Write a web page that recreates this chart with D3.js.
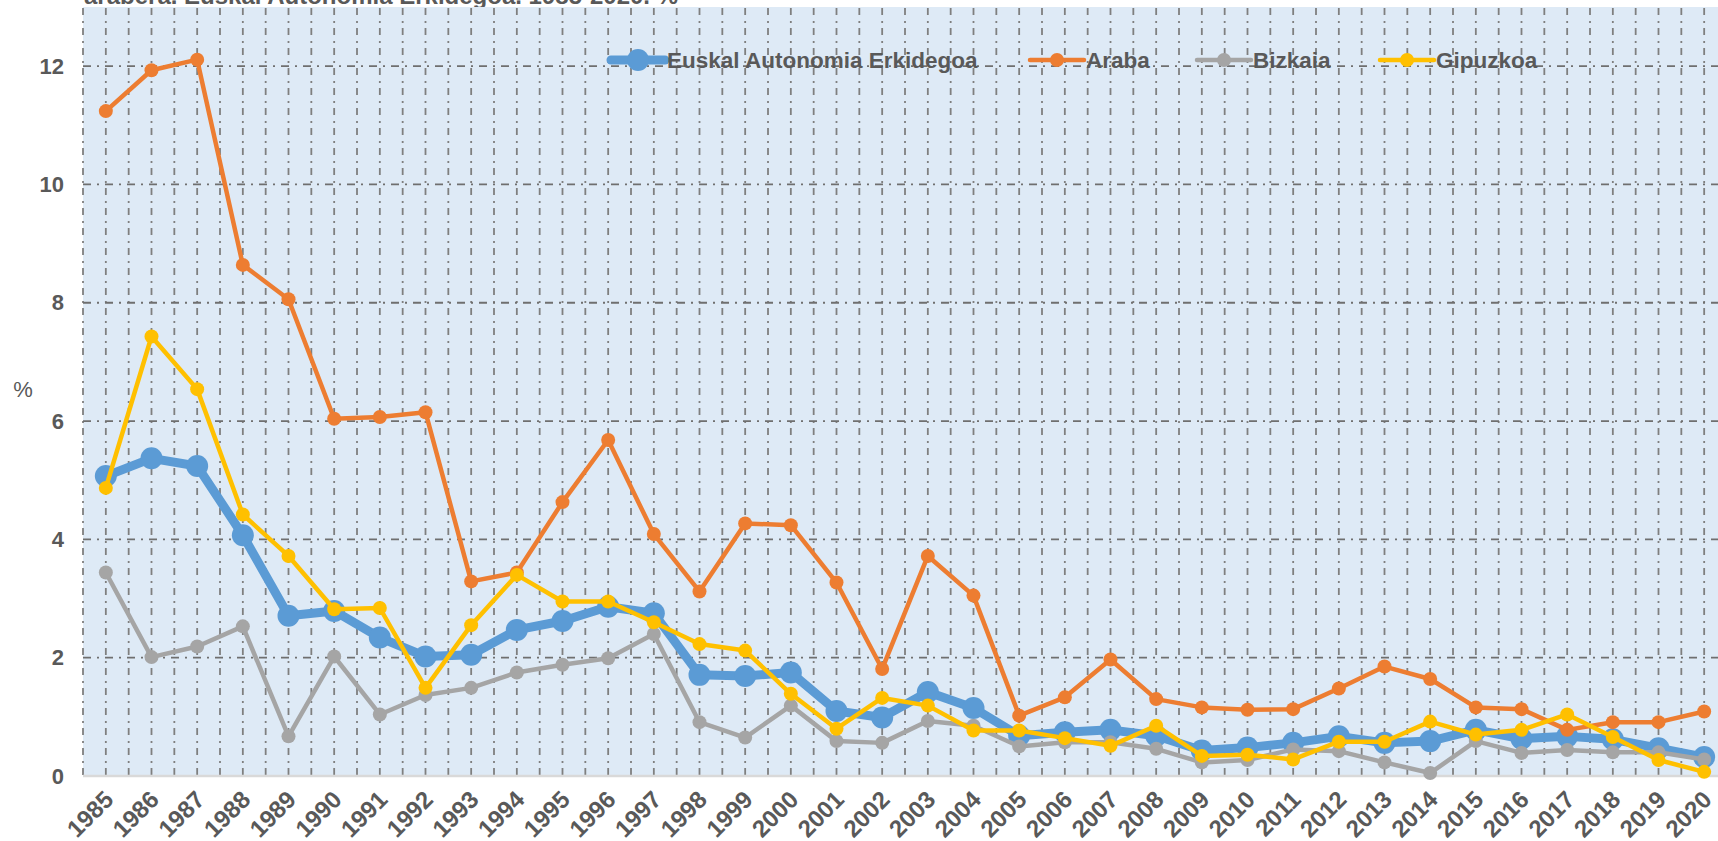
<!DOCTYPE html>
<html>
<head>
<meta charset="utf-8">
<script src="https://cdn.jsdelivr.net/npm/d3@7"></script>
<style>
  html, body { margin: 0; padding: 0; background: #ffffff; overflow: hidden; }
  svg { display: block; }
  text { font-family: "Liberation Sans", Arial, sans-serif; }
</style>
</head>
<body>
<svg id="chart" width="1718" height="841"></svg>
<script>
// ---- data ----
const years = ["1985","1986","1987","1988","1989","1990","1991","1992","1993","1994","1995","1996","1997","1998","1999","2000","2001","2002","2003","2004","2005","2006","2007","2008","2009","2010","2011","2012","2013","2014","2015","2016","2017","2018","2019","2020"];
const seriesNames = ["Euskal Autonomia Erkidegoa", "Araba", "Bizkaia", "Gipuzkoa"];
const eae = [5.07,5.37,5.24,4.07,2.71,2.79,2.34,2.02,2.05,2.47,2.62,2.86,2.75,1.71,1.69,1.75,1.10,0.99,1.42,1.15,0.68,0.74,0.78,0.68,0.43,0.48,0.56,0.67,0.56,0.59,0.78,0.63,0.67,0.62,0.47,0.32];
const araba = [11.24,11.93,12.11,8.64,8.06,6.04,6.07,6.15,3.29,3.44,4.63,5.68,4.09,3.12,4.27,4.24,3.27,1.81,3.72,3.05,1.02,1.33,1.97,1.30,1.16,1.12,1.13,1.48,1.85,1.64,1.16,1.13,0.78,0.91,0.91,1.09];
const bizkaia = [3.44,2.01,2.19,2.53,0.67,2.02,1.04,1.37,1.49,1.75,1.88,1.99,2.40,0.91,0.65,1.19,0.59,0.56,0.93,0.85,0.50,0.57,0.57,0.46,0.23,0.27,0.45,0.42,0.23,0.05,0.59,0.39,0.44,0.40,0.40,0.28];
const gipuzkoa = [4.87,7.43,6.54,4.42,3.72,2.82,2.84,1.49,2.55,3.40,2.95,2.95,2.60,2.23,2.12,1.39,0.80,1.32,1.19,0.77,0.77,0.64,0.51,0.85,0.34,0.36,0.28,0.58,0.58,0.92,0.70,0.78,1.04,0.66,0.27,0.07];
const yTicks = [0, 2, 4, 6, 8, 10, 12];
const yLabel = "%";
const titleText = "arabera. Euskal Autonomia Erkidegoa. 1985-2020. %";

// ---- layout ----
const svg = d3.select("#chart");
const plotLeft = 83, plotTop = 7, plotBottom = 776, plotRight = 1727;
const textColor = "#595959";

const x = d3.scaleBand().domain(years).range([plotLeft, plotRight]).paddingInner(0).paddingOuter(0);
const y = d3.scaleLinear().domain([0, 13]).range([plotBottom, plotTop]);
const cx = d => x(d) + x.bandwidth() / 2;

// title (partly cut off at top, as in the original)
svg.append("text")
  .attr("x", 84).attr("y", 4)
  .attr("font-size", 24).attr("font-weight", "bold")
  .attr("fill", textColor)
  .text(titleText);

// plot background
svg.append("rect")
  .attr("x", plotLeft).attr("y", plotTop)
  .attr("width", plotRight - plotLeft).attr("height", plotBottom - plotTop)
  .attr("fill", "#deeaf6");

// vertical gridlines: every half band
const vPos = [];
years.forEach(d => { vPos.push(x(d)); vPos.push(cx(d)); });
svg.append("g").selectAll("line").data(vPos).join("line")
  .attr("x1", d => d).attr("x2", d => d)
  .attr("y1", plotTop + 1).attr("y2", plotBottom)
  .attr("stroke", "#7f7f7f").attr("stroke-width", 1.8)
  .attr("stroke-dasharray", "7,6,2,5");

// horizontal gridlines at major ticks
svg.append("g").selectAll("line").data(yTicks.filter(t => t > 0)).join("line")
  .attr("x1", plotLeft).attr("x2", plotRight)
  .attr("y1", d => y(d)).attr("y2", d => y(d))
  .attr("stroke", "#6f6f6f").attr("stroke-width", 1.8)
  .attr("stroke-dasharray", "8,6,2,6");

// baseline
svg.append("line")
  .attr("x1", plotLeft).attr("x2", plotRight)
  .attr("y1", plotBottom).attr("y2", plotBottom)
  .attr("stroke", "#d9d9d9").attr("stroke-width", 2.5);

// y axis (labels only)
const yAxis = d3.axisLeft(y).tickValues(yTicks).tickSize(0).tickPadding(0).tickFormat(d3.format("d"));
const gy = svg.append("g").attr("transform", `translate(${plotLeft - 19},0)`).call(yAxis);
gy.select(".domain").remove();
gy.selectAll("text")
  .attr("font-size", 22).attr("font-weight", "bold")
  .attr("fill", textColor)
  .attr("font-family", "Liberation Sans, Arial, sans-serif");

// y axis title
svg.append("text")
  .attr("x", 23).attr("y", 389).attr("dy", "0.35em")
  .attr("text-anchor", "middle")
  .attr("font-size", 22).attr("fill", textColor)
  .text(yLabel);

// x axis (labels only)
const xAxis = d3.axisBottom(x).tickSize(0).tickPadding(0);
const gx = svg.append("g").attr("transform", `translate(0,${plotBottom})`).call(xAxis);
gx.select(".domain").remove();
gx.selectAll(".tick text")
  .attr("font-size", 24).attr("font-weight", "bold")
  .attr("fill", textColor)
  .attr("font-family", "Liberation Sans, Arial, sans-serif")
  .attr("text-anchor", "end")
  .attr("dy", null).attr("y", null)
  .attr("transform", "translate(9,25) rotate(-45)");

// series
const series = [
  { name: seriesNames[0], values: eae,      color: "#5b9bd5", width: 9,   r: 11 },
  { name: seriesNames[1], values: araba,    color: "#ed7d31", width: 4.5, r: 7 },
  { name: seriesNames[2], values: bizkaia,  color: "#a5a5a5", width: 4.5, r: 7 },
  { name: seriesNames[3], values: gipuzkoa, color: "#ffc000", width: 4.5, r: 7 }
];

const line = d3.line().x((v, i) => cx(years[i])).y(v => y(v));

series.forEach(s => {
  const g = svg.append("g");
  g.append("path")
    .attr("d", line(s.values))
    .attr("fill", "none")
    .attr("stroke", s.color)
    .attr("stroke-width", s.width)
    .attr("stroke-linejoin", "round");
  g.selectAll("circle").data(s.values).join("circle")
    .attr("cx", (v, i) => cx(years[i]))
    .attr("cy", v => y(v))
    .attr("r", s.r)
    .attr("fill", s.color);
});

// legend
const legendItems = [
  { s: series[0], x0: 611 },
  { s: series[1], x0: 1030 },
  { s: series[2], x0: 1197 },
  { s: series[3], x0: 1380 }
];
const ly = 60;
const lg = svg.append("g");
legendItems.forEach(it => {
  const s = it.s;
  lg.append("line")
    .attr("x1", it.x0).attr("x2", it.x0 + 54)
    .attr("y1", ly).attr("y2", ly)
    .attr("stroke", s.color).attr("stroke-width", s.width)
    .attr("stroke-linecap", "round");
  lg.append("circle")
    .attr("cx", it.x0 + 27).attr("cy", ly).attr("r", s.r).attr("fill", s.color);
  lg.append("text")
    .attr("x", it.x0 + 56).attr("y", ly).attr("dy", "0.36em")
    .attr("font-size", 22.5).attr("font-weight", "bold")
    .attr("fill", textColor)
    .text(s.name);
});
</script>
</body>
</html>
